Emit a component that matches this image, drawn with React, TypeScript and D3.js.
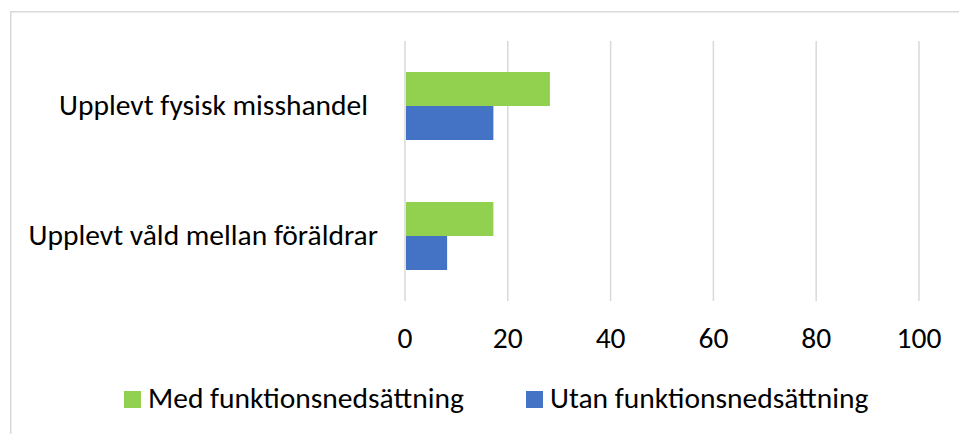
import React from "react";
import * as d3 from "d3";

const categories = ["Upplevt fysisk misshandel", "Upplevt våld mellan föräldrar"];
const seriesNames = ["Med funktionsnedsättning", "Utan funktionsnedsättning"];
const medValues = [28, 17];
const utanValues = [17, 8];
const tickValues = [0, 20, 40, 60, 80, 100];

const colors = ["#92D050", "#4472C4"];
const FONT = "Carlito, Calibri, 'Liberation Sans', Arial, sans-serif";
const FS = 29.5;

export default function App() {
  const W = 959;
  const H = 434;
  const x = d3.scaleLinear().domain([0, 100]).range([405, 919]);
  const y = d3
    .scaleBand<string>()
    .domain(categories)
    .range([41, 301])
    .paddingInner(1 - 68 / 130)
    .paddingOuter(0.2385);
  const sub = d3.scaleBand<string>().domain(seriesNames).range([0, y.bandwidth()]);
  const series = [medValues, utanValues];

  return (
    <svg
      width={W}
      height={H}
      style={{ position: "absolute", left: 0, top: 0, background: "#fff" }}
      fontFamily={FONT}
    >
      <rect x={0} y={0} width={W} height={H} fill="#fff" />
      <rect x={10.75} y={11.75} width={W + 20} height={H + 20} fill="none" stroke="#D9D9D9" strokeWidth={1.5} />
      {tickValues.map((t) => (
        <line key={t} x1={x(t)} x2={x(t)} y1={41} y2={301} stroke="#D9D9D9" strokeWidth={1.5} />
      ))}
      {categories.map((c, ci) =>
        series.map((vals, si) => (
          <rect
            key={c + si}
            x={x(0) + 1}
            y={(y(c) as number) + (sub(seriesNames[si]) as number)}
            width={x(vals[ci]) - x(0)}
            height={sub.bandwidth()}
            fill={colors[si]}
          />
        ))
      )}
      {categories.map((c, ci) => (
        <text
          key={c}
          x={ci === 0 ? 368 : 378}
          y={(y(c) as number) + y.bandwidth() / 2}
          dy="0.32em"
          textAnchor="end"
          fontSize={FS}
          fill="#000"
        >
          {c}
        </text>
      ))}
      {tickValues.map((t) => (
        <text key={"t" + t} x={x(t)} y={348} textAnchor="middle" fontSize={FS} fill="#000">
          {t}
        </text>
      ))}
      {seriesNames.map((s, i) => {
        const lx = i === 0 ? 124 : 526;
        return (
          <g key={s}>
            <rect x={lx} y={391} width={17} height={17} fill={colors[i]} />
            <text x={lx + 24} y={407.5} fontSize={FS} fill="#000">
              {s}
            </text>
          </g>
        );
      })}
    </svg>
  );
}
